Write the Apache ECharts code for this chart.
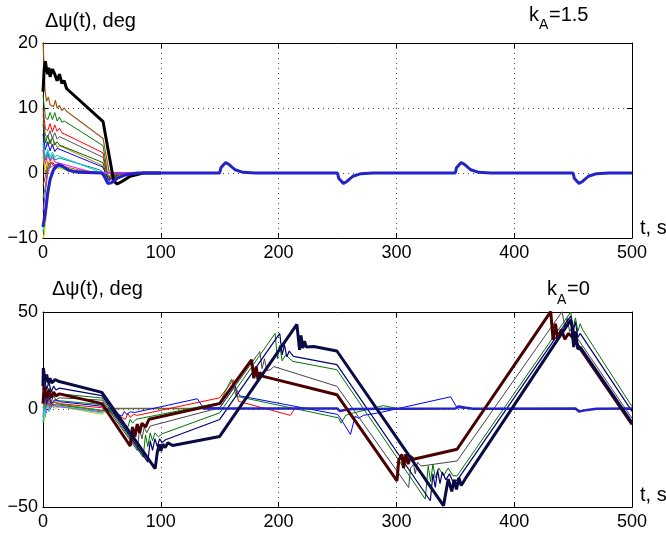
<!DOCTYPE html>
<html><head><meta charset="utf-8">
<script src="https://cdn.jsdelivr.net/npm/echarts@6/dist/echarts.min.js"></script>
<style>html,body{margin:0;padding:0;background:#fff}#c{width:666px;height:534px}</style>
</head><body><div id="c"></div><script>
// ---------- tick labels ----------
const xTicks = [0,100,200,300,400,500];
const topYTicks = [-10,0,10,20];
const botYTicks = [-50,0,50];

// ---------- top panel (k_A = 1.5) ----------
const topBlack = [[0,12.5],[1,16],[2,17.2],[3,16],[4,15.2],[5,16.2],[6,14.8],[8,16],[10,15.2],[12,14.2],[14,15.2],[16,13.8],[18,14.2],[20,13],[23,12.5],[51,7.9],[60,-1.2],[63,-1.7],[67,-1.3],[74,-0.5],[85,0],[100,0]];
const topBrown = [[0,20.5],[1.7,12.8],[3,11],[4.5,11.7],[6,10.5],[7.5,10.8],[9,10.2],[10.5,11.2],[12,10],[14,10.4],[16,9.6],[18,10],[20,9.5],[51,5.3],[56,0.3],[59,-0.9],[63,-0.8],[70,-0.2],[80,0],[100,0]];
const topGreen = [[0,12],[2,8.6],[4,8.2],[6,9.3],[8,8.2],[10,9.3],[12,8],[14,8.6],[16,7.8],[18,8],[51,4.2],[55,-0.3],[58,-0.9],[65,-0.3],[75,0],[100,0]];
const topRed = [[0,10],[2,6.8],[4,6.5],[6,7.6],[8,6.3],[10,7.4],[12,6.4],[14,6.9],[16,6.2],[51,3.1],[54,0],[57,-0.9],[65,-0.2],[75,0],[100,0]];
const topGrey = [[0,9],[2,5.8],[4,5.5],[6,6.5],[8,5.3],[10,6.2],[12,5.2],[14,5.6],[51,2.4],[54,0],[57,-0.9],[65,0],[100,0]];
const topDkGreen = [[0,7.5],[2,4.6],[4,5.8],[6,4.5],[8,5.5],[10,4.3],[12,4.8],[14,4.3],[51,1.6],[53,0],[56,-1],[65,0],[100,0]];
const topBlue = [[0,6],[2,3.6],[4,4.8],[6,3.4],[8,4.4],[10,3.3],[12,3.8],[51,0.9],[53,0],[56,-1.2],[65,0],[100,0]];
const topCyan = [[0,5],[2,2.4],[4,3.6],[6,2.5],[8,3.2],[10,2.4],[12,2.7],[45,0.4],[50,0],[55,-1],[62,0],[100,0]];
const topMagenta = [[0,3.5],[2,1.5],[4,2.8],[6,1.8],[8,2.4],[10,1.7],[40,0.2],[50,0],[55,-1],[62,0],[100,0]];
const topYellow = [[0,4],[1.5,0.5],[3,2.6],[5,1.2],[7,2],[10,1.2],[30,0.3],[50,0],[55,-0.8],[62,0],[100,0]];
const topOlive = [[0,2.5],[2,0],[4,1.8],[6,0.8],[10,1.3],[30,0.5],[50,0],[55,-0.6],[62,0],[100,0]];
const topTeal = [[0,4.5],[2,2],[4,3.2],[6,2],[8,2.8],[10,2],[14,2.3],[48,0.5],[52,0],[56,-1],[63,0],[100,0]];
const topOrange = [[0,8],[2,5],[4,4.2],[6,5.2],[8,4],[10,4.8],[12,3.9],[14,4.2],[50,1.2],[53,0],[56,-1],[64,0],[100,0]];
const topPurple = [[0,-6],[2,-3],[4,0],[7,1.5],[10,1],[15,1.2],[25,0.4],[50,0],[55,-1],[62,0],[100,0]];
const topMagNeg = [[0,-8],[2,-7],[4,-3],[7,0],[10,1.2],[14,1.4],[20,0.6],[30,0.1],[50,0],[100,0]];
const topCyanNeg = [[0,-9],[1,-9.3],[3,-5],[6,-1],[9,0.8],[14,1],[25,0.2],[50,0],[100,0]];
const topYellowNeg = [[0,-10],[1,-9.5],[3,-6],[6,-1.5],[9,0.6],[14,0.8],[25,0.1],[50,0],[100,0]];
const topGreenNeg = [[0,-4],[2,-2],[4,0.5],[7,1.6],[10,1],[20,0.5],[50,0],[100,0]];
const topRedNeg = [[0,-2],[2,-0.5],[5,1.5],[8,1.6],[12,1],[25,0.3],[50,0],[100,0]];
const topBlueThick = [[0,-8.3],[2,-6],[4,-3],[6,-1],[9,0.5],[13,1.3],[17,1],[22,0.4],[30,0.1],[50,0],[52,-0.5],[55,-1.6],[58,-1.5],[63,-0.8],[70,-0.3],[80,0],[150,0],[151,0.8],[155,1.6],[158,1.3],[163,0.5],[170,0.1],[180,0],[250,0],[251,-0.8],[255,-1.6],[258,-1.3],[263,-0.5],[270,-0.1],[280,0],[350,0],[351,0.8],[355,1.6],[358,1.3],[363,0.5],[370,0.1],[380,0],[450,0],[451,-0.8],[455,-1.6],[458,-1.3],[463,-0.5],[470,-0.1],[480,0],[500,0]];

// ---------- bottom panel (k_A = 0) ----------
const botCyan = [[0,-7],[1,3],[2,-4],[3,5],[5,-1],[7,3],[9,1],[12,2],[20,1.2],[50,-1.8],[55,0],[60,0]];
const botMagenta = [[0,-4],[1,6],[2.5,-2],[4,5],[6,0],[8,3],[11,1.5],[20,1],[50,-1.2],[56,0]];
const botYellow = [[0,2],[1,-6],[3,6],[5,-1],[7,3],[10,0.5],[14,1.5],[50,-2.5],[57,0]];
const botLime = [[0,8],[2,1],[4,6],[6,2],[9,4],[12,3],[50,-0.5],[55,0]];
const botOlive = [[0,1],[3,4],[6,1],[10,2.5],[20,1.8],[50,-0.5],[56,0.5],[140,0.5]];
const botRed = [[0,3],[1,9],[3,2],[5,6],[7,2],[10,4],[14,3],[50,0.9],[70,-5],[72,-2],[74,-4],[77,-2.5],[80,-3],[150,6],[161.7,15.3],[166,4.2],[210,-3],[214,0.8],[230,0.5]];
const botBlue = [[0,4],[1,10],[3,3],[5,7],[7,3],[10,5],[14,4],[50,1.7],[67,-3.4],[69,-1],[71,-2.5],[74,-1.2],[78,-1.5],[131,5.5],[136,1],[150,0.8],[163,12],[167,7],[250,-2.5],[252,-4],[261,-12.8],[265,-3.4],[268,-4.5],[272,-3],[285,-1.7],[346,6.5],[351.5,0.9],[360,0.5]];
const botGreenA = [[0,5],[1,11],[3,4],[5,8],[7,3],[10,5],[14,4.5],[50,2.5],[72,-9],[74,-5],[76,-7],[79,-5],[150,3.5],[160,15.6],[164,6.8],[251,-4.3],[253,-7],[257,-3],[262,-2],[289,2],[300,0.6]];
const botBrown = [[0,3],[1,12],[3,6],[5,10],[7,6],[9,9],[11,7],[14,8],[50,3],[74,-18.7],[76,-9],[78,-14],[80,-7.5],[82,-12],[84,-7],[87,-9],[90,-5],[150,3],[177,25.5],[179,16],[181,22],[182.5,15.3],[184,19],[187,17],[249.5,7.6],[300.5,-36.6],[302,-26],[304.7,-23],[306,-30],[308,-23],[310,-28],[312,-24],[314.5,-25.5],[351.5,-20.4],[431,50.2],[433,35.7],[435,44],[437,36],[440,41],[443,36],[446,39],[449,37.4],[500,-7.6]];
const botGrey = [[0,6],[1,12],[3,5],[5,9],[7,4],[9,7],[11,5],[14,6],[50,4.8],[80,-21],[82,-10],[84,-15],[86,-9],[88,-12],[91,-8.5],[150,0.9],[184,29.7],[186,21],[188,26],[190,20],[193,20.4],[196,22],[249.5,11.9],[310.4,-40],[312,-30],[314.6,-28],[316,-33],[318,-27],[321,-29],[351.5,-26.4],[440.7,50.2],[443,42],[445,47],[447,40],[450,43],[452,38],[500,-4.5]];
const botGreenB = [[0,7],[1,14],[3,6],[5,11],[7,6],[9,9],[11,7],[14,8],[50,5.9],[85,-24.5],[87,-13],[89,-19],[91,-12],[93,-16],[95,-12],[98,-14],[101,-12.5],[150,-1.7],[197,39],[199,26],[201,33],[203,25],[206,28],[212,24.7],[249.5,20.4],[324.5,-45.9],[327,-29],[329,-37],[331,-28],[333,-35],[336,-30],[340,-34],[344,-30],[348,-34],[351.5,-34],[448,50],[450,42],[452,47],[454,40],[456,44],[458,41],[500,1.5]];
const botNavyThin = [[0,10],[1,18],[3,10],[5,14],[7,9],[9,12],[11,10],[14,11],[50,7.1],[89,-27],[91,-16],[93,-21],[95,-15],[97,-19],[99,-15],[101,-17],[104,-15.5],[150,-5.1],[201,39],[203,28],[205,33],[207,27],[209,30],[212.6,27.2],[249.5,23],[328.8,-46.8],[331,-33],[333,-40],[335,-31],[337,-38],[339,-32],[342,-36],[345,-33],[348,-37],[352,-36],[448,48],[450,40],[452,45],[454,37],[456,39],[500,-1]];
const botNavyThick = [[0,12],[0.3,21.3],[1.7,14.5],[3.1,17.9],[4.5,13.6],[5.9,16],[7.4,13.6],[10.2,15.3],[13,14.5],[50,8.8],[95.2,-30.3],[97,-22],[98.8,-17.9],[100,-21.3],[101.7,-17.8],[103.7,-19.5],[106,-17],[110,-18.5],[150,-13.8],[215.5,43.7],[217.8,30.6],[219,38],[220.5,31.5],[222,35],[223.6,32],[229.8,32.3],[249.5,30],[340,-49.3],[344,-35.7],[347,-42],[349,-36],[351,-41],[353,-35],[355,-39],[358,-36],[448,46],[449,42.5],[450.5,32],[452,40],[454,31],[456,32],[500,-6.8]];
const botBlueThick = [[136,0.5],[250,0.5],[252,-0.8],[256,-0.3],[262,0.3],[350,0.5],[353,1.6],[358,1],[365,0.4],[452,0.5],[455,-1],[462,-0.2],[470,0.4],[500,0.5]];

const FONT = 'Liberation Sans, Arial, Helvetica, sans-serif';
const fmt = v => v < 0 ? '\u2212' + Math.abs(v) : String(v);

function line(data, color, width, g, z) {
  return { type: 'line', data: data, xAxisIndex: g * 2, yAxisIndex: g * 2, showSymbol: false, symbol: 'none',
    lineStyle: { color: color, width: width }, z: z || 2, animation: false, clip: true, silent: true };
}

function axesFor(g, ymin, ymax, yint, yTicks) {
  const xs = [
    { gridIndex: g, type: 'value', min: xTicks[0], max: xTicks[xTicks.length-1], interval: 100, position: 'bottom',
      axisLine: { show: true, onZero: false, lineStyle: { color: '#000', width: 1 } },
      axisTick: { show: true, inside: true, length: 5, lineStyle: { color: '#000' } },
      axisLabel: { color: '#000', fontSize: 18, fontFamily: FONT, margin: 6, formatter: fmt },
      splitLine: { show: true, lineStyle: { color: '#444', type: [1, 4], width: 1 } } },
    { gridIndex: g, type: 'value', min: xTicks[0], max: xTicks[xTicks.length-1], interval: 100, position: 'top',
      axisLine: { show: true, onZero: false, lineStyle: { color: '#000', width: 1 } },
      axisTick: { show: true, inside: true, length: 5, lineStyle: { color: '#000' } },
      axisLabel: { show: false }, splitLine: { show: false } }
  ];
  const ys = [
    { gridIndex: g, type: 'value', min: ymin, max: ymax, interval: yint, position: 'left',
      axisLine: { show: true, onZero: false, lineStyle: { color: '#000', width: 1 } },
      axisTick: { show: true, inside: true, length: 5, lineStyle: { color: '#000' } },
      axisLabel: { color: '#000', fontSize: 18, fontFamily: FONT, margin: 5, formatter: fmt,
        customValues: yTicks },
      splitLine: { show: true, lineStyle: { color: '#444', type: [1, 4], width: 1 } } },
    { gridIndex: g, type: 'value', min: ymin, max: ymax, interval: yint, position: 'right',
      axisLine: { show: true, onZero: false, lineStyle: { color: '#000', width: 1 } },
      axisTick: { show: true, inside: true, length: 5, lineStyle: { color: '#000' } },
      axisLabel: { show: false }, splitLine: { show: false } }
  ];
  return { xs, ys };
}
const a0 = axesFor(0, -10, 20, 10, topYTicks);
const a1 = axesFor(1, -50, 50, 50, botYTicks);

const series = [
  line(topOlive, '#808000', 1, 0), line(topYellow, '#d4d400', 1, 0), line(topMagenta, '#ff00ff', 1, 0),
  line(topTeal, '#008b8b', 1, 0), line(topOrange, '#b8860b', 1, 0),
  line(topCyan, '#00cccc', 1, 0), line(topBlue, '#0000ff', 1, 0), line(topDkGreen, '#006400', 1, 0),
  line(topGrey, '#555555', 1, 0), line(topRed, '#ff0000', 1, 0), line(topGreen, '#008000', 1, 0),
  line(topBrown, '#9b5a1a', 1.2, 0), line(topRedNeg, '#ff0000', 1, 0), line(topGreenNeg, '#00a000', 1, 0),
  line(topYellowNeg, '#e0e000', 1.5, 0), line(topCyanNeg, '#00dddd', 1.5, 0), line(topMagNeg, '#ff00ff', 1.5, 0),
  line(topPurple, '#8a2be2', 1, 0),
  line(topBlack, '#000000', 3, 0, 3), line(topBlueThick, '#2323c8', 3, 0, 4),

  line(botOlive, '#6b6b3a', 1.5, 1), line(botYellow, '#d4d400', 1, 1), line(botMagenta, '#ff00ff', 1, 1),
  line(botCyan, '#00cccc', 1, 1), line(botLime, '#00b000', 1, 1),
  line(botRed, '#ff0000', 1, 1), line(botGreenA, '#008000', 1, 1), line(botBlue, '#0000ff', 1, 1),
  line(botGrey, '#444444', 1, 1), line(botGreenB, '#007000', 1, 1), line(botNavyThin, '#000070', 1.2, 1),
  line(botBlueThick, '#2323c8', 2.5, 1, 3),
  line(botBrown, '#4a0000', 3, 1, 3), line(botNavyThick, '#0a0a45', 3, 1, 4)
];

function txt(x, y, s, size) {
  return { type: 'text', x: x, y: y, silent: true,
    style: { text: s, fontSize: size, fontFamily: FONT, fill: '#000', textVerticalAlign: 'middle', textAlign: 'left' } };
}

const option = {
  backgroundColor: '#fff',
  animation: false,
  grid: [
    { left: 43, right: 34, top: 43, height: 195, show: false },
    { left: 43, right: 34, top: 312, height: 195, show: false }
  ],
  xAxis: a0.xs.concat(a1.xs),
  yAxis: a0.ys.concat(a1.ys),
  series: series,
  graphic: [
    txt(45, 21, '\u0394\u03c8(t), deg', 20),
    txt(529, 15, 'k', 20), txt(539, 25, 'A', 14), txt(549, 15, '=1.5', 20),
    txt(640, 228, 't, s', 20),
    txt(52, 289, '\u0394\u03c8(t), deg', 20),
    txt(547, 289, 'k', 20), txt(557, 300, 'A', 14), txt(567, 289, '=0', 20),
    txt(640, 495, 't, s', 20)
  ]
};
echarts.init(document.getElementById('c'), null, { renderer: 'canvas' }).setOption(option);
</script></body></html>
